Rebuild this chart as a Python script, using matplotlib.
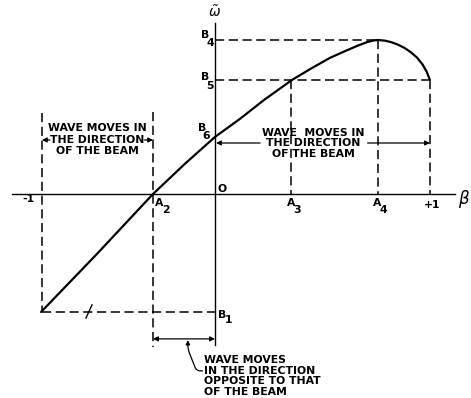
import matplotlib
matplotlib.use("Agg")
import matplotlib.pyplot as plt

# Dispersion curve omega~(beta)
beta = [-0.809, -0.549, -0.288, -0.140, 0.0, 0.116, 0.228, 0.358, 0.450,
        0.535, 0.600, 0.660, 0.710, 0.740, 0.758, 0.790, 0.820, 0.850,
        0.880, 0.910, 0.940, 0.965, 0.985, 1.0]
omega = [-0.549, -0.279, 0.0, 0.140, 0.265, 0.349, 0.437, 0.530, 0.585,
         0.633, 0.662, 0.688, 0.707, 0.714, 0.716, 0.713, 0.706, 0.695,
         0.680, 0.660, 0.634, 0.603, 0.568, 0.530]

# Marked points on the beta axis and the omega axis
beta_ticks = {"-1": -0.805, "A2": -0.288, "A3": 0.353, "A4": 0.758, "+1": 1.0}
omega_levels = {"B4": 0.716, "B5": 0.530, "B6": 0.265, "B1": -0.550}

LW_DASH = 1.1
DASH = (0, (6, 3))
FONT = dict(family="DejaVu Sans", fontweight="bold", fontsize=7.8, color="black")

fig = plt.figure(figsize=(4.71, 3.98), dpi=100)
ax = fig.add_axes([0, 0, 1, 1])
ax.set_xlim(-1.0, 1.191)
ax.set_ylim(-0.949, 0.902)
ax.axis("off")

# axes
ax.plot([-0.944, 1.116], [0, 0], color="black", lw=1.0)
ax.plot([0, 0], [-0.702, 0.795], color="black", lw=1.0)

# curve
ax.plot(beta, omega, color="black", lw=1.6, solid_capstyle="round",
        solid_joinstyle="round")

b = beta_ticks
w = omega_levels

def dashed(xs, ys):
    ax.plot(xs, ys, color="black", lw=LW_DASH, linestyle=DASH)

# horizontal guides
dashed([0, b["A4"]], [w["B4"], w["B4"]])
dashed([0, b["+1"]], [w["B5"], w["B5"]])
dashed([b["-1"], 0], [w["B1"], w["B1"]])
# vertical guides
dashed([b["-1"], b["-1"]], [0.377, w["B1"]])
dashed([b["A2"], b["A2"]], [0.381, -0.712])
dashed([b["A3"], b["A3"]], [w["B5"], 0])
dashed([b["A4"], b["A4"]], [w["B4"], 0])
dashed([b["+1"], b["+1"]], [w["B5"], 0])

# small slash on the B1 line
ax.plot([-0.600, -0.572], [-0.577, -0.516], color="black", lw=1.0)

arrow = dict(arrowstyle="-|>", color="black", lw=0.9, mutation_scale=7,
             shrinkA=0, shrinkB=0)

def arr(x0, x1, y):
    ax.annotate("", xy=(x1, y), xytext=(x0, y), arrowprops=arrow)

# left region: wave moves in the direction of the beam
for txt, y in zip(["WAVE MOVES IN", "THE DIRECTION", "OF THE BEAM"],
                  [0.307, 0.251, 0.200]):
    ax.text(-0.547, y, txt, ha="center", va="center", **FONT)
arr(-0.768, b["-1"], 0.251)
arr(-0.328, b["A2"], 0.251)

# right region
for txt, y in zip(["WAVE  MOVES IN", "THE DIRECTION", "OF THE BEAM"],
                  [0.284, 0.237, 0.186]):
    ax.text(0.456, y, txt, ha="center", va="center", **FONT)
arr(0.210, 0.005, 0.237)
arr(0.710, b["+1"], 0.237)

# opposite direction band
ax.annotate("", xy=(b["A2"], -0.674), xytext=(0, -0.674),
            arrowprops=dict(arrowstyle="<|-|>", color="black", lw=0.9,
                            mutation_scale=7, shrinkA=0, shrinkB=0))
ax.annotate("", xy=(-0.126, -0.680), xytext=(-0.058, -0.823),
            arrowprops=dict(arrowstyle="-|>", color="black", lw=0.9,
                            mutation_scale=6, shrinkA=0, shrinkB=0,
                            connectionstyle="arc,angleA=180,armA=6,angleB=-90,armB=9,rad=4"))
for txt, y in zip(["WAVE MOVES", "IN THE DIRECTION", "OPPOSITE TO THAT", "OF THE BEAM"],
                  [-0.772, -0.823, -0.872, -0.919]):
    ax.text(-0.052, y, txt, ha="left", va="center", **FONT)

# labels with subscripts
def sub_label(x, y, letter, digit, dx=0.030, dy=-0.035):
    ax.text(x, y, letter, ha="center", va="center", **FONT)
    ax.text(x + dx, y + dy, digit, ha="center", va="center", **FONT)

sub_label(-0.260, -0.040, "A", "2")
sub_label(0.353, -0.040, "A", "3")
sub_label(0.753, -0.040, "A", "4")
sub_label(-0.047, 0.740, "B", "4", dx=0.025, dy=-0.040)
sub_label(-0.047, 0.545, "B", "5", dx=0.022, dy=-0.042)
sub_label(-0.060, 0.307, "B", "6", dx=0.020, dy=-0.037)
sub_label(0.033, -0.563, "B", "1", dx=0.030, dy=-0.025)

ax.text(-0.870, -0.022, "-1", ha="center", va="center", **FONT)
ax.text(1.008, -0.052, "+1", ha="center", va="center", **FONT)
ax.text(0.033, 0.022, "O", ha="center", va="center", **FONT)
ax.text(0.0, 0.845, r"$\tilde{\omega}$", ha="center", va="center", fontsize=10)
ax.text(1.158, -0.025, r"$\beta$", ha="center", va="center", fontsize=12)

fig.savefig("out.png", dpi=100, facecolor="white")
